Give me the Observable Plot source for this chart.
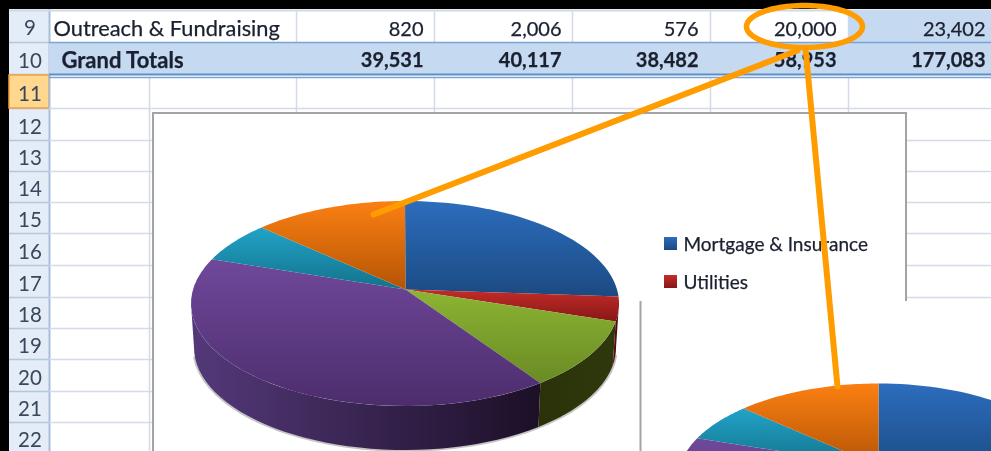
<!DOCTYPE html>
<html><head><meta charset="utf-8">
<script src="https://cdn.jsdelivr.net/npm/d3@7"></script>
<script src="https://cdn.jsdelivr.net/npm/@observablehq/plot@0.6"></script>
<style>html,body{margin:0;padding:0;background:#000;overflow:hidden}svg{display:block;filter:blur(0.45px)}</style>
</head><body>
<script>
// ---- data ----
const rowNumbers = [9,10,11,12,13,14,15,16,17,18,19,20,21,22];
const row9Label = "Outreach & Fundraising";
const row9Values = ["820","2,006","576","20,000","23,402"];
const row10Label = "Grand Totals";
const row10Values = ["39,531","40,117","38,482","58,953","177,083"];
const sliceNames = ["Mortgage & Insurance","Utilities","Slice 3","Slice 4","Slice 5","Outreach & Fundraising"];
const sliceShares = [23.9,3.9,11.3,43.0,6.2,11.7];   // percent of pie as drawn
const legendNames = ["Mortgage & Insurance","Utilities"];

// ---- styles ----
const topColors = [["#2c6dbd","#1b4a82"],["#c42c29","#861816"],["#8cb533","#6a8a24"],["#70489b","#4c2d6c"],["#22a3c8","#13728c"],["#fb8012","#b55405"]];
const sideColors = [["#14305a","#14305a"],["#6a1010","#3a0808"],["#2b3209","#2f380c"],["#54397a","#1c0f27"],["#0e5062","#0e5062"],["#8a4004","#8a4004"]];

// ---- layout of the sheet ----
const rowEdges = [9,42,74,108,140,171,202,233,265,297,328,359,391,422,453];
const colEdges = [149,296,434,572,710,848];
const valueEnds = [423,561,698,836,985];
const grid="#d3dae8", orange="#ff9c00", frame="#a3a3a3";

const pies = d3.pie().sort(null).value(d=>d)(sliceShares);

function piece(xs, opts){ return Plot.line(xs,{x:"x",y:"y",stroke:"none",...opts}); }
function pieMarks(p){
  const pt=(t,dep=0,shr=0)=>({x:p.cx+(p.rx-shr)*Math.sin(t),y:p.cy+dep-p.ry*Math.cos(t)});
  const arc=(a,b,dep=0,shr=0)=>d3.range(0,41).map(i=>pt(a+(b-a)*i/40,dep,shr));
  const lo=Math.PI/2, hi=Math.PI*1.5, out=[];
  // soft shadow edge
  out.push(Plot.line(arc(lo*1.05,hi*0.98,p.depth+0.5,p.shr-0.5),{x:"x",y:"y",stroke:"#555",strokeWidth:2.5,strokeOpacity:.35}));
  pies.forEach((s,i)=>{
    const a=Math.max(s.startAngle,lo), b=Math.min(s.endAngle,hi);
    if(a<b) out.push(piece([...arc(a,b),...arc(a,b,p.depth,p.shr).reverse()],{fill:`url(#side${i})`}));
  });
  pies.forEach((s,i)=>{
    out.push(piece([{x:p.ax,y:p.ay},...arc(s.startAngle,s.endAngle)],{fill:`url(#top${i})`}));
  });
  return out;
}
function defs(){
  const ns="http://www.w3.org/2000/svg";
  const d=document.createElementNS(ns,"defs");
  d.innerHTML = topColors.map((c,i)=>`<linearGradient id="top${i}" x1="0" y1="0" x2="0" y2="1"><stop offset="0" stop-color="${c[0]}"/><stop offset="1" stop-color="${c[1]}"/></linearGradient>`).join("")
    + sideColors.map((c,i)=>`<linearGradient id="side${i}" x1="0" y1="0" x2="1" y2="0"><stop offset="0" stop-color="${c[0]}"/><stop offset="1" stop-color="${c[1]}"/></linearGradient>`).join("");
  return d;
}
const R=(x1,x2,y1,y2,fill,extra={})=>Plot.rect([{x1,x2,y1,y2}],{x1:"x1",x2:"x2",y1:"y1",y2:"y2",fill,...extra});
const H=(ys,x1,x2,stroke=grid,w=1.5)=>Plot.ruleY(ys,{x1,x2,stroke,strokeWidth:w});
const V=(xs,y1,y2,stroke=grid,w=1.5)=>Plot.ruleX(xs,{y1,y2,stroke,strokeWidth:w});
const font="Lato", ink="#1a2030";
const thick={stroke:ink,strokeWidth:0.25};

const cellTexts = (vals,y,weight)=>Plot.text(vals.map((v,i)=>({v,x:valueEnds[i],y})),{x:"x",y:"y",text:"v",textAnchor:"end",fontFamily:font,fontSize:20,fontWeight:weight,fill:ink,...thick});

const plot = Plot.plot({
  width:991,height:451,margin:0,
  x:{domain:[0,991],range:[0,991],axis:null},
  y:{domain:[0,451],range:[0,451],axis:null},
  style:{background:"#fff",fontFamily:font},
  marks:[
    defs,
    // window chrome
    R(0,991,0,9,"#000"),R(0,9,0,451,"#000"),
    // row headers
    R(9,49,9,451,"#e4ecf7"),
    H(rowEdges.slice(1),9,49,"#b4c6dc",1.5),
    R(9,49,75,108,"#ffd78e",{stroke:"#f2a13c",strokeWidth:1.5}),
    V([49],9,451,"#a9bed8",2),
    // sheet grid
    H([10],9,991,"#cfd8e6",2),
    H(rowEdges.slice(3),49,991),
    V(colEdges,77,113),
    V(colEdges.slice(1),10,42),
    V([149],108,451),
    // highlighted cells
    R(848,991,10,42,"#c5d9f1"),
    R(49,991,43,74,"#c5d9f1"),
    H([42],49,991,"#7ba3d4",1.5),
    H([74],49,991,"#5f8fc9",2),
    H([77],49,991,"#7ba3d4",1.5),
    // row numbers
    Plot.text(rowNumbers.map((v,i)=>({v,x:29.5,y:(rowEdges[i]+rowEdges[i+1])/2+2.5})),{x:"x",y:"y",text:"v",textAnchor:"middle",fontFamily:font,fontSize:20.5,fill:"#39475a"}),
    // table text
    Plot.text([row9Label],{x:()=>53,y:()=>29,text:d=>d,textAnchor:"start",fontFamily:font,fontSize:21.8,fill:ink,...thick}),
    Plot.text([row10Label],{x:()=>61,y:()=>60.5,text:d=>d,textAnchor:"start",fontFamily:font,fontSize:22,fontWeight:700,fill:ink,...thick}),
    cellTexts(row9Values,29,400),
    cellTexts(row10Values,60.5,700),
    // first chart
    R(153,906,113,470,"#fff",{stroke:frame,strokeWidth:2}),
    pieMarks({cx:404.5,cy:303,ax:405,ay:289,rx:214,ry:102.5,depth:44,shr:3}),
    // legend
    legendNames.map((n,i)=>[
      R(664,677,237+38*i,250+38*i,`url(#top${i})`),
      Plot.text([n],{x:()=>683,y:()=>244.5+38*i,text:d=>d,textAnchor:"start",fontFamily:font,fontSize:19,fill:ink,...thick})
    ]),
    // second chart
    R(640,991,301,451,"#fff"),
    V([640],301,451,frame,2),
    pieMarks({cx:878,cy:479.4,ax:878,ay:465.7,rx:201,ry:96.4,depth:41,shr:3}),
    // callouts
    Plot.line(d3.range(0,101).map(i=>({x:804+58*Math.cos(i/100*2*Math.PI),y:26+21*Math.sin(i/100*2*Math.PI)})),{x:"x",y:"y",stroke:orange,strokeWidth:5.5}),
    Plot.line([{x:797,y:50},{x:373,y:214}],{x:"x",y:"y",stroke:orange,strokeWidth:6}),
    Plot.line([{x:805,y:48},{x:837,y:386}],{x:"x",y:"y",stroke:orange,strokeWidth:6})
  ]
});
document.body.appendChild(plot);
</script>
</body></html>
